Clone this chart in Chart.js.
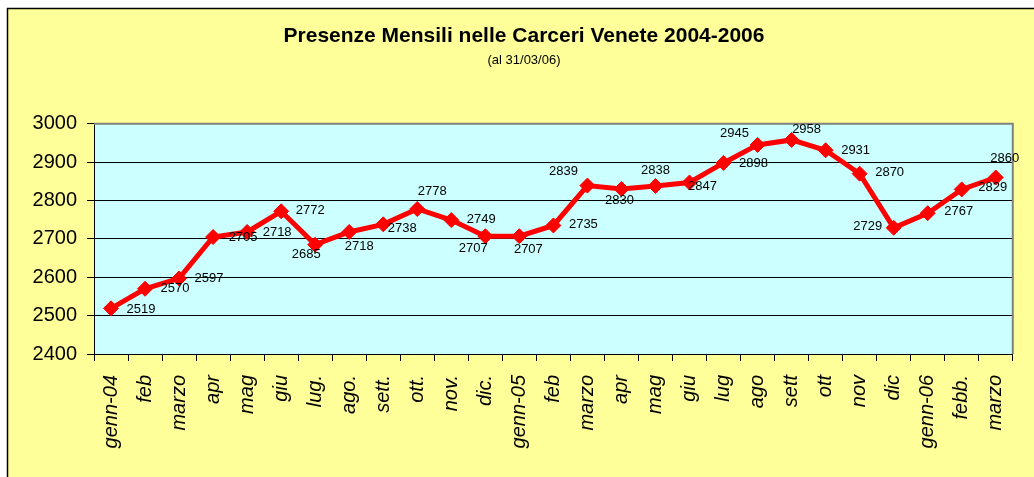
<!DOCTYPE html>
<html>
<head>
<meta charset="utf-8">
<script src="https://cdn.jsdelivr.net/npm/chart.js@4/dist/chart.umd.min.js"></script>
<style>
  html, body { margin: 0; padding: 0; background: #ffffff; }
  #wrap { width: 1034px; height: 477px; position: relative; }
</style>
</head>
<body>
<div id="wrap"><canvas id="c"></canvas></div>
<script>
const categories = ["genn-04","feb","marzo","apr","mag","giu","lug.","ago.","sett.","ott.","nov.","dic.",
                    "genn-05","feb","marzo","apr","mag","giu","lug","ago","sett","ott","nov","dic",
                    "genn-06","febb.","marzo"];
const presenze = [2519,2570,2597,2705,2718,2772,2685,2718,2738,2778,2749,2707,
                  2707,2735,2839,2830,2838,2847,2898,2945,2958,2931,2870,2729,
                  2767,2829,2860];
const yMin = 2400, yMax = 3000, yStep = 100;
const titleText = "Presenze Mensili nelle Carceri Venete 2004-2006";
const subtitleText = "(al 31/03/06)";

// label placement relative to each point (style only)
const labelOffsets = [
  [30,1],[30,0],[30,0],[30,0],[30,0],[29,-1],[-9,10],[10,14],[19,4],[15,-18],[30,-1],[-12,12],
  [9,13],[30,-1],[-24,-14],[-2,11],[0,-16],[13,4],[30,0],[-23,-11],[15,-10],[30,0],[30,-1],[-26,-1],
  [31,-2],[31,-2],[9,-19]
];

const FONT = "Arial, 'Liberation Sans', sans-serif";

const bgPlugin = {
  id: 'bgPlugin',
  beforeDraw(chart) {
    const ctx = chart.ctx;
    ctx.save();
    ctx.fillStyle = '#ffffff';
    ctx.fillRect(0, 0, chart.width, chart.height);
    ctx.fillStyle = '#FFFF99';
    ctx.fillRect(7, 8, chart.width + 10, chart.height + 10);
    ctx.strokeStyle = '#000000';
    ctx.lineWidth = 1.5;
    ctx.strokeRect(7.5, 8.5, chart.width + 20, chart.height + 20);
    const a = chart.chartArea;
    ctx.fillStyle = '#CCFFFF';
    ctx.fillRect(a.left, a.top, a.right - a.left, a.bottom - a.top);
    ctx.restore();
  },
  beforeDatasetsDraw(chart) {
    const ctx = chart.ctx;
    const a = chart.chartArea;
    ctx.save();
    ctx.strokeStyle = '#808080';
    ctx.lineWidth = 2;
    ctx.beginPath();
    ctx.moveTo(a.left, a.top);
    ctx.lineTo(a.right, a.top);
    ctx.lineTo(a.right, a.bottom);
    ctx.stroke();
    ctx.restore();
  }
};

const labelPlugin = {
  id: 'labelPlugin',
  afterDatasetsDraw(chart) {
    const ctx = chart.ctx;
    const meta = chart.getDatasetMeta(0);
    ctx.save();
    ctx.font = "13px " + FONT;
    ctx.fillStyle = '#000000';
    ctx.textAlign = 'center';
    ctx.textBaseline = 'middle';
    meta.data.forEach((pt, i) => {
      const off = labelOffsets[i] || [30, 0];
      ctx.fillText(String(presenze[i]), pt.x + off[0], pt.y + off[1]);
    });
    ctx.restore();
  }
};

new Chart(document.getElementById('c'), {
  type: 'line',
  data: {
    labels: categories,
    datasets: [{
      data: presenze,
      borderColor: '#FF0000',
      backgroundColor: '#FF0000',
      borderWidth: 5,
      pointStyle: 'rectRot',
      pointRadius: 7.5,
      pointHoverRadius: 7.5,
      pointBackgroundColor: '#FF0000',
      pointBorderColor: '#FF0000',
      pointBorderWidth: 1,
      tension: 0,
      clip: false
    }]
  },
  options: {
    responsive: true,
    maintainAspectRatio: false,
    animation: false,
    events: [],
    layout: { padding: { left: 27, right: 13, top: 0, bottom: 0 } },
    plugins: {
      legend: { display: false },
      tooltip: { enabled: false },
      title: {
        display: true,
        text: titleText,
        color: '#000000',
        font: { family: FONT, size: 21, weight: 'bold' },
        padding: { top: 24, bottom: 3 }
      },
      subtitle: {
        display: true,
        text: subtitleText,
        color: '#000000',
        font: { family: FONT, size: 13 },
        padding: { top: 0, bottom: 56 }
      }
    },
    scales: {
      x: {
        type: 'category',
        offset: true,
        grid: { display: true, offset: true, drawOnChartArea: false, drawTicks: true, tickLength: 7, color: '#000000', lineWidth: 1 },
        border: { display: true, color: '#000000', width: 1 },
        ticks: {
          autoSkip: false,
          maxRotation: 90,
          minRotation: 90,
          padding: 14,
          color: '#000000',
          font: { family: FONT, size: 20, style: 'italic' }
        },
        afterFit(scale) { scale.height = 123; }
      },
      y: {
        min: yMin,
        max: yMax,
        grid: { color: '#000000', lineWidth: 1, drawTicks: true, tickLength: 7 },
        border: { display: true, color: '#000000', width: 1 },
        ticks: {
          stepSize: yStep,
          padding: 10,
          color: '#000000',
          font: { family: FONT, size: 20 },
          callback: (v) => String(v)
        },
        afterFit(scale) { scale.width = 67; }
      }
    }
  },
  plugins: [bgPlugin, labelPlugin]
});
</script>
</body>
</html>
